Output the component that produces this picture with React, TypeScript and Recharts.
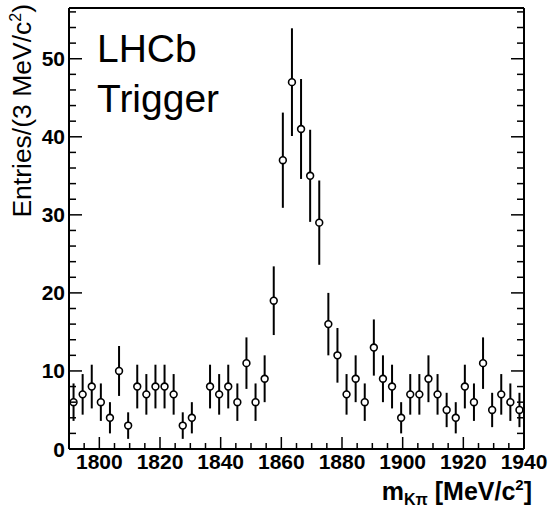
import { ScatterChart, Scatter, XAxis, YAxis, ErrorBar } from "recharts"

// bin centres (3 MeV bins)
const masses = [
  1791.5, 1794.5, 1797.5, 1800.5, 1803.5, 1806.5, 1809.5, 1812.5, 1815.5, 1818.5,
  1821.5, 1824.5, 1827.5, 1830.5, 1833.5, 1836.5, 1839.5, 1842.5, 1845.5, 1848.5,
  1851.5, 1854.5, 1857.5, 1860.5, 1863.5, 1866.5, 1869.5, 1872.5, 1875.5, 1878.5,
  1881.5, 1884.5, 1887.5, 1890.5, 1893.5, 1896.5, 1899.5, 1902.5, 1905.5, 1908.5,
  1911.5, 1914.5, 1917.5, 1920.5, 1923.5, 1926.5, 1929.5, 1932.5, 1935.5, 1938.5,
]

const counts = [
  6, 7, 8, 6, 4, 10, 3, 8, 7, 8,
  8, 7, 3, 4, null, 8, 7, 8, 6, 11,
  6, 9, 19, 37, 47, 41, 35, 29, 16, 12,
  7, 9, 6, 13, 9, 8, 4, 7, 7, 9,
  7, 5, 4, 8, 6, 11, 5, 7, 6, 5,
]

const errors = [
  2.4, 2.6, 2.8, 2.4, 2.0, 3.2, 1.7, 2.8, 2.6, 2.8,
  2.8, 2.6, 1.7, 2.0, null, 2.8, 2.6, 2.8, 2.4, 3.3,
  2.4, 3.0, 4.4, 6.1, 6.9, 6.4, 5.9, 5.4, 4.0, 3.5,
  2.6, 3.0, 2.4, 3.6, 3.0, 2.8, 2.0, 2.6, 2.6, 3.0,
  2.6, 2.2, 2.0, 2.8, 2.4, 3.3, 2.2, 2.6, 2.4, 2.2,
]

const xTicks = [
  1790, 1795, 1800, 1805, 1810, 1815, 1820, 1825, 1830, 1835, 1840, 1845, 1850, 1855, 1860, 1865,
  1870, 1875, 1880, 1885, 1890, 1895, 1900, 1905, 1910, 1915, 1920, 1925, 1930, 1935, 1940,
]
const xLabels = [1800, 1820, 1840, 1860, 1880, 1900, 1920, 1940]

const yTicks = [
  0, 2, 4, 6, 8, 10, 12, 14, 16, 18, 20, 22, 24, 26, 28, 30, 32, 34, 36, 38, 40, 42, 44, 46, 48,
  50, 52, 54, 56,
]
const yLabels = [0, 10, 20, 30, 40, 50]

const font = "'Liberation Sans', Arial, Helvetica, sans-serif"

// skip empty bins, like ROOT does
const chartData = masses
  .map((m, i) => ({ m, n: counts[i], err: errors[i] }))
  .filter((d) => d.n !== null)

// ticks are drawn pointing into the frame
const XTick = ({ x, y, payload, top }: any) => {
  const v = payload.value
  const major = xLabels.includes(v)
  const len = major ? 12 : 6
  const dir = top ? 1 : -1
  return (
    <g>
      <line x1={x} y1={y} x2={x} y2={y + dir * len} stroke="#000" strokeWidth={1.5} />
      {!top && major && (
        <text x={x} y={y + 20} textAnchor="middle" fontFamily={font} fontWeight="bold" fontSize={21} fill="#000">
          {v}
        </text>
      )}
    </g>
  )
}

const YTick = ({ x, y, payload, right }: any) => {
  const v = payload.value
  const major = yLabels.includes(v)
  const len = major ? 13 : 7
  const dir = right ? -1 : 1
  return (
    <g>
      <line x1={x} y1={y} x2={x + dir * len} y2={y} stroke="#000" strokeWidth={1.5} />
      {!right && major && (
        <text x={x - 4} y={y + 7.5} textAnchor="end" fontFamily={font} fontWeight="bold" fontSize={21} fill="#000">
          {v}
        </text>
      )}
    </g>
  )
}

const OpenCircle = ({ cx, cy }: any) => (
  <circle cx={cx} cy={cy} r={3.4} fill="#fff" stroke="#000" strokeWidth={1.6} />
)

export default function App() {
  const axisLine = { stroke: "#000", strokeWidth: 2 }
  return (
    <div style={{ position: "absolute", left: 0, top: 0, width: 552, height: 509, background: "#fff" }}>
      <ScatterChart width={552} height={509} margin={{ top: 0, right: 0, bottom: 0, left: 0 }}>
        <XAxis
          xAxisId="b"
          dataKey="m"
          type="number"
          domain={[1790, 1940]}
          allowDataOverflow
          ticks={xTicks}
          interval={0}
          height={60}
          tickSize={0}
          tickMargin={0}
          tickLine={false}
          axisLine={axisLine}
          tick={(p: any) => <XTick {...p} />}
        />
        <XAxis
          xAxisId="t"
          orientation="top"
          type="number"
          domain={[1790, 1940]}
          allowDataOverflow
          ticks={xTicks}
          interval={0}
          height={8}
          tickSize={0}
          tickMargin={0}
          tickLine={false}
          axisLine={axisLine}
          tick={(p: any) => <XTick {...p} top />}
        />
        <YAxis
          yAxisId="l"
          dataKey="n"
          type="number"
          domain={[0, 56.5]}
          allowDataOverflow
          ticks={yTicks}
          interval={0}
          width={69}
          tickSize={0}
          tickMargin={0}
          tickLine={false}
          axisLine={axisLine}
          tick={(p: any) => <YTick {...p} />}
        />
        <YAxis
          yAxisId="r"
          orientation="right"
          type="number"
          domain={[0, 56.5]}
          allowDataOverflow
          ticks={yTicks}
          interval={0}
          width={28}
          tickSize={0}
          tickMargin={0}
          tickLine={false}
          axisLine={axisLine}
          tick={(p: any) => <YTick {...p} right />}
        />
        <Scatter
          xAxisId="b"
          yAxisId="l"
          data={chartData}
          dataKey="n"
          shape={<OpenCircle />}
          isAnimationActive={false}
        >
          <ErrorBar dataKey="err" direction="y" width={0} stroke="#000" strokeWidth={2} />
        </Scatter>
      </ScatterChart>
      <svg width={552} height={509} style={{ position: "absolute", left: 0, top: 0, pointerEvents: "none" }}>
        <text x={97} y={62} fontFamily={font} fontSize={39} fill="#000">LHCb</text>
        <text x={97} y={112} fontFamily={font} fontSize={39} fill="#000">Trigger</text>
        <text
          transform="translate(31, 4) rotate(-90)"
          textAnchor="end"
          fontFamily={font}
          fontSize={26.5}
          fill="#000"
        >
          Entries/(3 MeV/c<tspan dy={-10} fontSize={16}>2</tspan><tspan dy={10}>)</tspan>
        </text>
        <text x={532} y={500} textAnchor="end" fontFamily={font} fontWeight="bold" fontSize={25} fill="#000">
          m<tspan dy={5} fontSize={16}>K</tspan><tspan fontSize={16}>π</tspan>
          <tspan dy={-5}> [MeV/c</tspan><tspan dy={-10} fontSize={15}>2</tspan><tspan dy={10}>]</tspan>
        </text>
      </svg>
    </div>
  )
}
